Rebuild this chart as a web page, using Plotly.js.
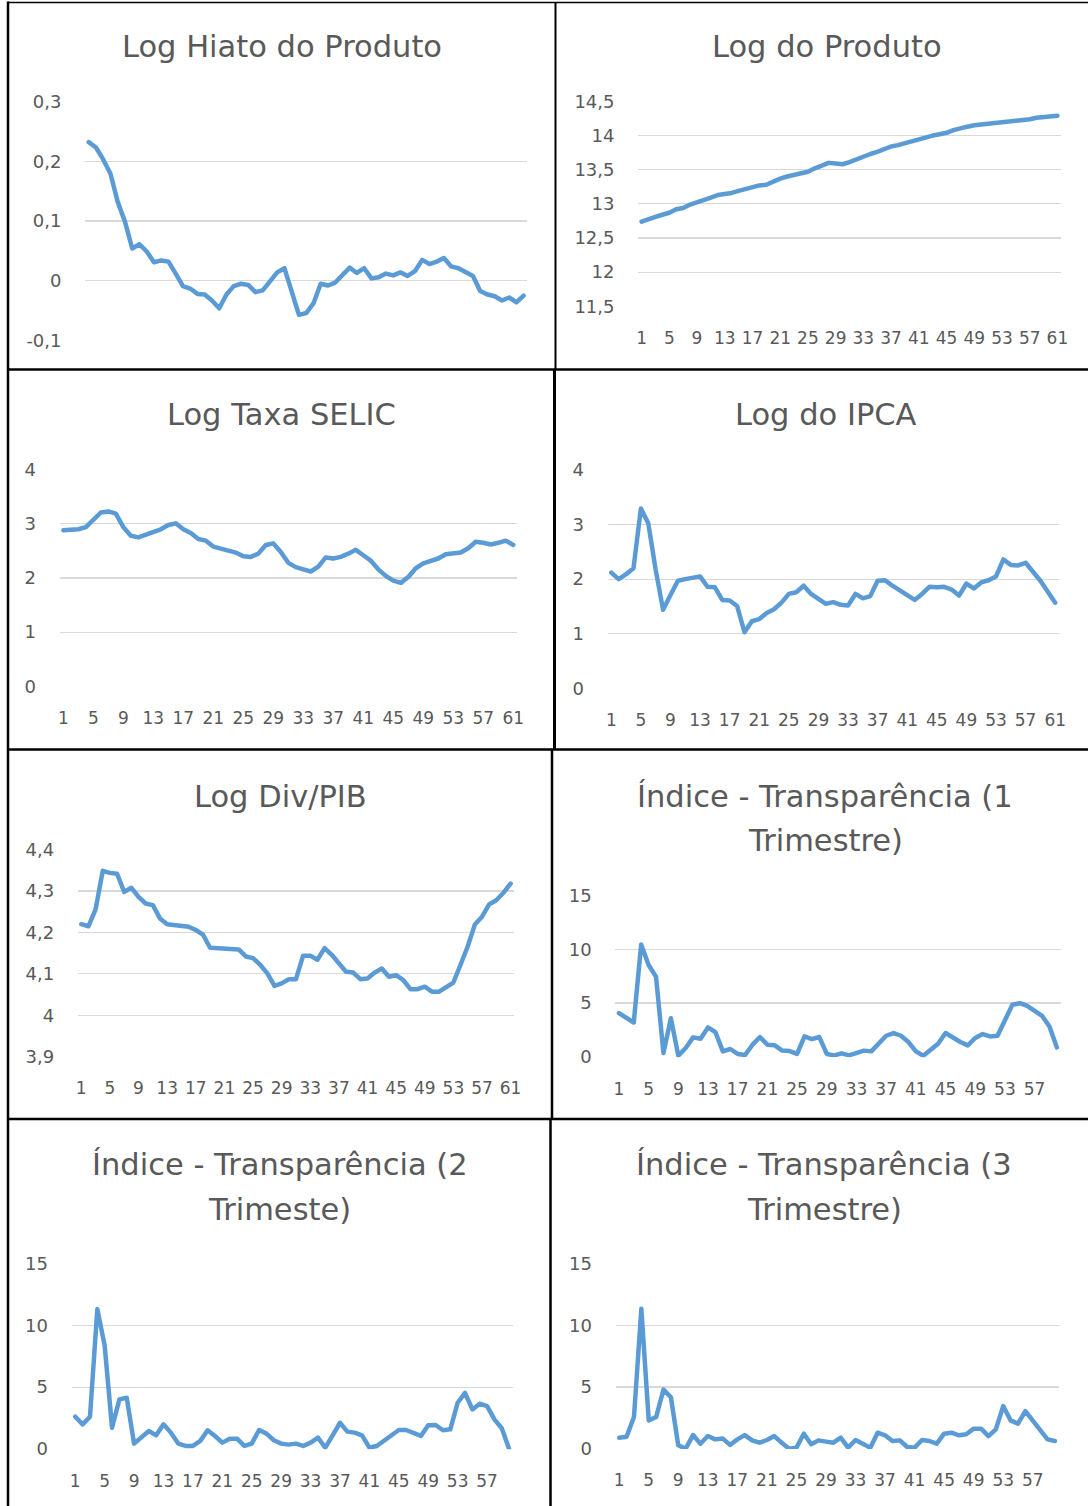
<!DOCTYPE html>
<html>
<head>
<meta charset="utf-8">
<script src="https://cdn.plot.ly/plotly-3.0.1.min.js"></script>
<style>
html, body { margin: 0; padding: 0; background: #ffffff; }
#chart { width: 1088px; height: 1506px; }
.scatterlayer .js-line { stroke-linejoin: round; stroke-linecap: round; }
</style>
</head>
<body>
<div id="chart"></div>
<script>
// ---------- categories and tick labels ----------
const categories61 = [1,2,3,4,5,6,7,8,9,10,11,12,13,14,15,16,17,18,19,20,21,22,23,24,25,26,27,28,29,30,31,32,33,34,35,36,37,38,39,40,41,42,43,44,45,46,47,48,49,50,51,52,53,54,55,56,57,58,59,60,61];
const categories60 = [1,2,3,4,5,6,7,8,9,10,11,12,13,14,15,16,17,18,19,20,21,22,23,24,25,26,27,28,29,30,31,32,33,34,35,36,37,38,39,40,41,42,43,44,45,46,47,48,49,50,51,52,53,54,55,56,57,58,59,60];
const xTicks61 = [1,5,9,13,17,21,25,29,33,37,41,45,49,53,57,61];
const xTickText61 = ['1','5','9','13','17','21','25','29','33','37','41','45','49','53','57','61'];
const xTicks60 = [1,5,9,13,17,21,25,29,33,37,41,45,49,53,57];
const xTickText60 = ['1','5','9','13','17','21','25','29','33','37','41','45','49','53','57'];

const yTicksHiato = [-0.1, 0, 0.1, 0.2, 0.3];
const yTextHiato = ['-0,1', '0', '0,1', '0,2', '0,3'];
const yTicksProduto = [11.5, 12, 12.5, 13, 13.5, 14, 14.5];
const yTextProduto = ['11,5', '12', '12,5', '13', '13,5', '14', '14,5'];
const yTicks0to4 = [0, 1, 2, 3, 4];
const yText0to4 = ['0', '1', '2', '3', '4'];
const yTicksDiv = [3.9, 4.0, 4.1, 4.2, 4.3, 4.4];
const yTextDiv = ['3,9', '4', '4,1', '4,2', '4,3', '4,4'];
const yTicks0to15 = [0, 5, 10, 15];
const yText0to15 = ['0', '5', '10', '15'];

// ---------- series ----------
const hiato = [0.232,0.223,0.203,0.179,0.132,0.099,0.054,0.061,0.049,0.031,
  0.034,0.032,0.012,-0.009,-0.013,-0.022,-0.023,-0.033,-0.046,-0.023,
  -0.009,-0.005,-0.007,-0.019,-0.016,-0.001,0.014,0.021,-0.018,-0.057,
  -0.054,-0.038,-0.005,-0.008,-0.003,0.010,0.022,0.013,0.021,0.004,
  0.006,0.012,0.009,0.014,0.008,0.016,0.035,0.028,0.032,0.038,
  0.024,0.021,0.014,0.008,-0.017,-0.023,-0.026,-0.033,-0.028,-0.036,-0.025];

const produto = [12.74,12.78,12.81,12.84,12.87,12.92,12.94,12.99,13.02,13.05,
  13.09,13.13,13.14,13.16,13.19,13.22,13.25,13.27,13.28,13.33,
  13.37,13.40,13.42,13.44,13.47,13.52,13.56,13.60,13.59,13.58,
  13.61,13.65,13.70,13.73,13.76,13.80,13.84,13.86,13.89,13.91,
  13.94,13.97,14.00,14.02,14.04,14.08,14.11,14.13,14.15,14.16,
  14.17,14.18,14.20,14.20,14.21,14.23,14.24,14.26,14.27,14.28,14.29];

const selic = [2.88,2.88,2.90,2.94,3.09,3.21,3.23,3.19,2.94,2.78,
  2.75,2.80,2.84,2.90,2.98,3.01,2.90,2.83,2.72,2.69,
  2.58,2.55,2.51,2.47,2.40,2.39,2.45,2.61,2.64,2.48,
  2.28,2.20,2.16,2.12,2.21,2.38,2.36,2.39,2.45,2.52,
  2.42,2.32,2.16,2.04,1.95,1.91,2.02,2.18,2.27,2.31,
  2.36,2.44,2.45,2.47,2.55,2.67,2.65,2.62,2.65,2.69,2.61];

const ipca = [2.12,2.00,2.09,2.20,3.29,3.02,2.17,1.44,1.71,1.97,
  2.00,2.02,2.05,1.86,1.85,1.62,1.61,1.51,1.03,1.23,
  1.27,1.38,1.45,1.57,1.73,1.76,1.88,1.73,1.64,1.55,
  1.58,1.53,1.52,1.73,1.65,1.69,1.97,1.98,1.88,1.79,
  1.69,1.62,1.73,1.86,1.85,1.86,1.81,1.70,1.92,1.83,
  1.94,1.98,2.05,2.36,2.26,2.25,2.30,2.15,1.97,1.77,1.57];

const divPib = [4.220,4.215,4.256,4.349,4.344,4.342,4.298,4.308,4.286,4.270,
  4.266,4.234,4.220,4.218,4.217,4.214,4.206,4.195,4.163,4.162,
  4.162,4.159,4.159,4.142,4.138,4.122,4.101,4.071,4.077,4.087,
  4.087,4.144,4.144,4.134,4.162,4.146,4.127,4.105,4.103,4.087,
  4.089,4.103,4.113,4.093,4.097,4.085,4.063,4.063,4.069,4.057,
  4.057,4.068,4.079,4.122,4.166,4.219,4.238,4.268,4.278,4.296,4.318];

const transp1 = [4.07,3.66,3.20,10.44,8.53,7.45,0.37,3.60,0.12,0.83,
  1.82,1.69,2.74,2.31,0.52,0.74,0.28,0.18,1.14,1.85,
  1.14,1.08,0.59,0.55,0.28,1.91,1.66,1.85,0.28,0.15,
  0.34,0.15,0.37,0.59,0.52,1.23,1.97,2.22,1.97,1.39,
  0.52,0.12,0.74,1.23,2.22,1.76,1.39,1.08,1.76,2.13,
  1.91,1.97,3.51,4.84,4.99,4.74,4.28,3.82,2.83,0.89];

const transp2 = [2.61,1.99,2.61,11.32,8.36,1.72,4.01,4.14,0.43,0.91,
  1.45,1.10,1.99,1.32,0.43,0.24,0.24,0.65,1.51,1.05,
  0.51,0.83,0.83,0.24,0.43,1.53,1.24,0.70,0.43,0.35,
  0.43,0.24,0.51,0.91,0.11,1.10,2.12,1.40,1.32,1.10,
  0.11,0.24,0.70,1.05,1.53,1.53,1.32,1.05,1.91,1.94,
  1.51,1.59,3.74,4.54,3.20,3.66,3.47,2.39,1.67,0.00];

const transp3 = [0.89,0.97,2.56,11.34,2.29,2.56,4.79,4.17,0.27,0.00,
  1.10,0.40,1.02,0.75,0.83,0.30,0.75,1.10,0.67,0.48,
  0.70,1.02,0.48,0.00,0.08,1.21,0.35,0.67,0.57,0.48,
  0.89,0.08,0.70,0.40,0.08,1.29,1.08,0.62,0.67,0.13,
  0.08,0.70,0.62,0.40,1.21,1.29,1.08,1.16,1.62,1.62,
  1.02,1.56,3.45,2.29,2.02,3.04,2.24,1.48,0.75,0.62];

// ---------- layout helpers (page pixels -> paper fractions) ----------
const W = 1088, H = 1506;
const px = v => v / W;
const py = v => 1 - v / H;

const FONT = 'DejaVu Sans';
const TEXT_COLOR = '#595959';
const LINE_COLOR = '#5B9BD5';
const GRID_COLOR = '#D9D9D9';
const TICK_SIZE = 18;
const TITLE_SIZE = 30.5;

const panels = [
  { title: ['Log Hiato do Produto'], tx: 282, ty: [47],
    cats: categories61, y: hiato, xt: null, xtt: null,
    yt: yTicksHiato, ytt: yTextHiato, yr: [-0.1, 0.3],
    box: [85.1, 527.3, 101, 341] },
  { title: ['Log do Produto'], tx: 827, ty: [47],
    cats: categories61, y: produto, xt: xTicks61, xtt: xTickText61,
    yt: yTicksProduto, ytt: yTextProduto, yr: [11.5, 14.5],
    box: [638.1, 1060.9, 101, 306.7] },
  { title: ['Log Taxa SELIC'], tx: 281, ty: [415],
    cats: categories61, y: selic, xt: xTicks61, xtt: xTickText61,
    yt: yTicks0to4, ytt: yText0to4, yr: [0, 4],
    box: [59.6, 517, 469.3, 686.7] },
  { title: ['Log do IPCA'], tx: 826, ty: [415],
    cats: categories61, y: ipca, xt: xTicks61, xtt: xTickText61,
    yt: yTicks0to4, ytt: yText0to4, yr: [0, 4],
    box: [607.6, 1058.9, 469.3, 689] },
  { title: ['Log Div/PIB'], tx: 280, ty: [796],
    cats: categories61, y: divPib, xt: xTicks61, xtt: xTickText61,
    yt: yTicksDiv, ytt: yTextDiv, yr: [3.9, 4.4],
    box: [77.7, 514.2, 849.3, 1057] },
  { title: ['Índice - Transparência (1', 'Trimestre)'], tx: 825, ty: [796, 841],
    cats: categories60, y: transp1, xt: xTicks60, xtt: xTickText60,
    yt: yTicks0to15, ytt: yText0to15, yr: [0, 15],
    box: [615.2, 1060.6, 895, 1057.3] },
  { title: ['Índice - Transparência (2', 'Trimeste)'], tx: 279.5, ty: [1164, 1209],
    cats: categories60, y: transp2, xt: xTicks60, xtt: xTickText60,
    yt: yTicks0to15, ytt: yText0to15, yr: [0, 15],
    box: [71.6, 512.8, 1263.3, 1449.3] },
  { title: ['Índice - Transparência (3', 'Trimestre)'], tx: 824, ty: [1164, 1209],
    cats: categories60, y: transp3, xt: xTicks60, xtt: xTickText60,
    yt: yTicks0to15, ytt: yText0to15, yr: [0, 15],
    box: [615.5, 1058.6, 1263.3, 1449] }
];

const data = [];
const layout = {
  width: W, height: H,
  margin: { l: 0, r: 0, t: 0, b: 0, pad: 0 },
  paper_bgcolor: '#ffffff', plot_bgcolor: 'rgba(0,0,0,0)',
  showlegend: false,
  font: { family: FONT, color: TEXT_COLOR },
  annotations: [], shapes: []
};

panels.forEach((p, i) => {
  const k = i + 1;
  const xs = k === 1 ? '' : String(k);
  const [x0, x1, yTop, yBot] = p.box;
  const eps = (p.yr[1] - p.yr[0]) * 0.002;

  data.push({
    type: 'scatter', mode: 'lines',
    x: p.cats, y: p.y,
    line: { color: LINE_COLOR, width: 4.5 },
    xaxis: 'x' + xs, yaxis: 'y' + xs,
    hoverinfo: 'skip'
  });

  const xa = {
    domain: [px(x0), px(x1)],
    range: [0.5, p.cats.length + 0.5],
    anchor: 'y' + xs,
    showgrid: false, zeroline: false, showline: false,
    tickangle: 0,
    tickfont: { family: FONT, size: TICK_SIZE - 1, color: TEXT_COLOR },
    fixedrange: true
  };
  if (p.xt) {
    Object.assign(xa, { tickmode: 'array', tickvals: p.xt, ticktext: p.xtt,
      ticks: 'outside', ticklen: 16, tickcolor: 'rgba(0,0,0,0)', showticklabels: true });
  } else {
    Object.assign(xa, { showticklabels: false, ticks: '' });
  }
  const ya = {
    domain: [py(yBot), py(yTop)],
    range: [p.yr[0] - eps, p.yr[1] + eps],
    anchor: 'x' + xs,
    tickmode: 'array', tickvals: p.yt, ticktext: p.ytt,
    ticks: 'outside', ticklen: 19, tickcolor: 'rgba(0,0,0,0)',
    showgrid: true, gridcolor: GRID_COLOR, gridwidth: 1.2,
    zeroline: false, showline: false,
    tickfont: { family: FONT, size: TICK_SIZE, color: TEXT_COLOR },
    fixedrange: true
  };
  layout['xaxis' + xs] = xa;
  layout['yaxis' + xs] = ya;

  p.title.forEach((t, j) => {
    layout.annotations.push({
      text: t, xref: 'paper', yref: 'paper',
      x: px(p.tx), y: py(p.ty[j]),
      xanchor: 'center', yanchor: 'middle', showarrow: false,
      font: { family: FONT, size: TITLE_SIZE, color: TEXT_COLOR }
    });
  });
});

// panel borders
const borderLines = [
  [8, 1.5, 8, 1506, 2.5],
  [8, 2.5, 1088, 2.5, 1.5],
  [8, 369.5, 1088, 369.5, 2.5],
  [8, 749.5, 1088, 749.5, 2.5],
  [8, 1119, 1088, 1119, 2.5],
  [555.5, 2.5, 555.5, 369.5, 2],
  [554.5, 369.5, 554.5, 749.5, 3],
  [552, 749.5, 552, 1119, 2.5],
  [550.5, 1119, 550.5, 1506, 2.5]
];
borderLines.forEach(b => {
  layout.shapes.push({
    type: 'line', xref: 'paper', yref: 'paper',
    x0: px(b[0]), y0: py(b[1]), x1: px(b[2]), y1: py(b[3]),
    line: { color: '#000000', width: b[4] }, layer: 'above'
  });
});

Plotly.newPlot('chart', data, layout, { displayModeBar: false, staticPlot: true });
</script>
</body>
</html>
